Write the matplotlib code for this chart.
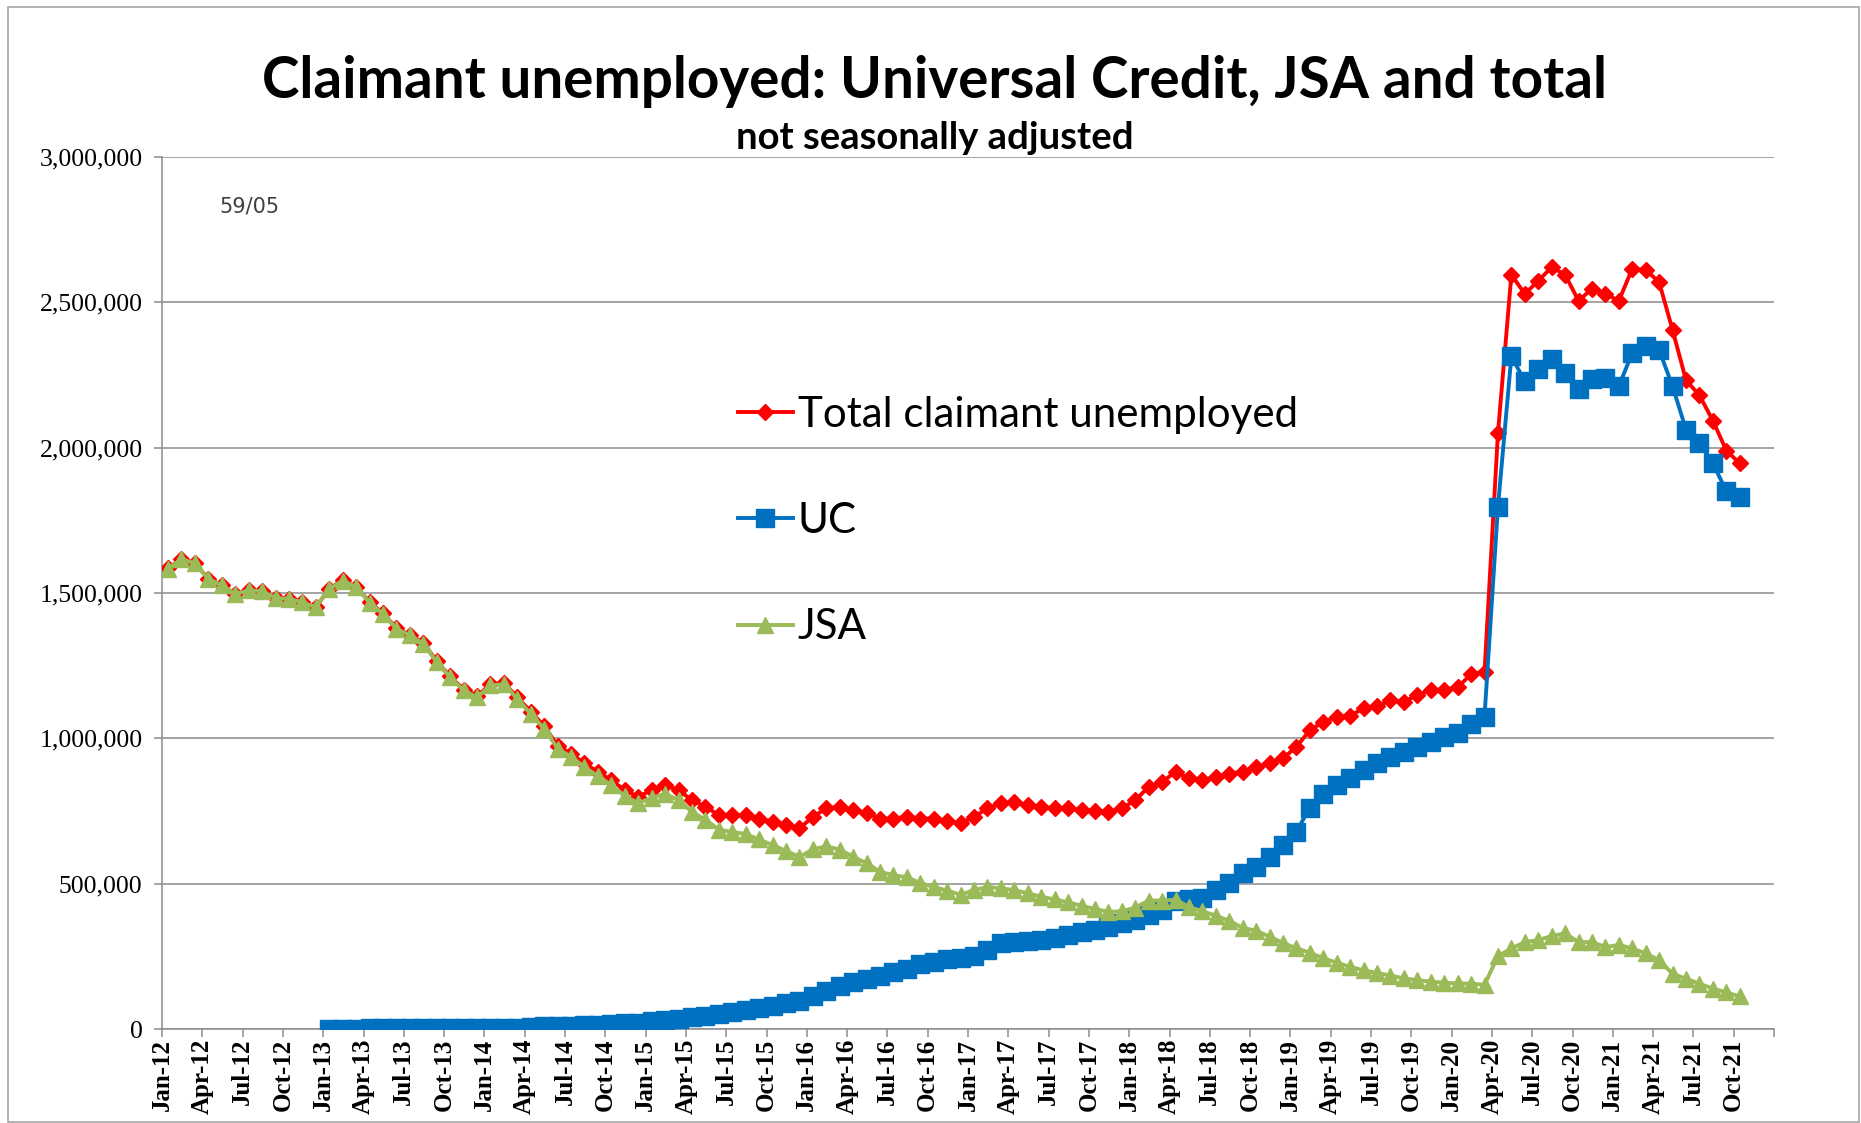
import numpy as np
import pandas as pd
import matplotlib
matplotlib.use('Agg')
import matplotlib.pyplot as plt
from matplotlib.patches import Rectangle

# Monthly claimant counts, Jan 2012 to Oct 2021 (millions)
months = pd.date_range('2012-01-01', '2021-10-01', freq='MS')

total = [1.585, 1.617, 1.602, 1.549, 1.526, 1.497, 1.509, 1.506, 1.483, 1.480, 1.468, 1.451,
         1.515, 1.544, 1.521, 1.469, 1.430, 1.379, 1.356, 1.329, 1.265, 1.213, 1.168, 1.145,
         1.186, 1.191, 1.141, 1.092, 1.042, 0.975, 0.947, 0.914, 0.885, 0.856, 0.822, 0.799,
         0.822, 0.839, 0.822, 0.787, 0.765, 0.736, 0.736, 0.736, 0.724, 0.713, 0.701, 0.690,
         0.730, 0.759, 0.765, 0.753, 0.742, 0.724, 0.724, 0.730, 0.724, 0.724, 0.716, 0.707,
         0.730, 0.759, 0.776, 0.782, 0.770, 0.765, 0.759, 0.759, 0.753, 0.751, 0.747, 0.759,
         0.787, 0.833, 0.850, 0.885, 0.862, 0.856, 0.868, 0.879, 0.885, 0.902, 0.914, 0.931,
         0.971, 1.028, 1.057, 1.074, 1.078, 1.103, 1.111, 1.131, 1.126, 1.149, 1.166, 1.168,
         1.175, 1.221, 1.229, 2.050, 2.595, 2.529, 2.574, 2.621, 2.595, 2.505, 2.547, 2.529,
         2.505, 2.616, 2.612, 2.569, 2.405, 2.232, 2.180, 2.093, 1.990, 1.946]

# Universal Credit starts in Jan 2013
uc = [np.nan] * 12 + [
         0.001, 0.001, 0.001, 0.002, 0.002, 0.002, 0.002, 0.003, 0.003, 0.003, 0.003, 0.004,
         0.004, 0.005, 0.005, 0.008, 0.009, 0.010, 0.011, 0.013, 0.015, 0.017, 0.020, 0.022,
         0.027, 0.030, 0.034, 0.040, 0.045, 0.050, 0.058, 0.065, 0.072, 0.080, 0.088, 0.098,
         0.112, 0.130, 0.148, 0.160, 0.172, 0.183, 0.195, 0.208, 0.222, 0.232, 0.240, 0.245,
         0.252, 0.272, 0.295, 0.300, 0.303, 0.306, 0.312, 0.323, 0.332, 0.340, 0.350, 0.363,
         0.375, 0.392, 0.409, 0.440, 0.448, 0.452, 0.478, 0.501, 0.535, 0.558, 0.593, 0.633,
         0.679, 0.762, 0.810, 0.840, 0.862, 0.891, 0.914, 0.936, 0.954, 0.971, 0.988, 1.005,
         1.017, 1.051, 1.075, 1.796, 2.315, 2.228, 2.270, 2.304, 2.258, 2.201, 2.235, 2.240,
         2.211, 2.327, 2.349, 2.336, 2.211, 2.062, 2.016, 1.946, 1.851, 1.829]

jsa = [1.584, 1.617, 1.602, 1.549, 1.526, 1.497, 1.509, 1.506, 1.483, 1.480, 1.468, 1.451,
       1.514, 1.543, 1.520, 1.467, 1.428, 1.377, 1.354, 1.326, 1.262, 1.210, 1.165, 1.141,
       1.182, 1.186, 1.136, 1.084, 1.033, 0.965, 0.936, 0.901, 0.870, 0.839, 0.802, 0.777,
       0.795, 0.809, 0.788, 0.747, 0.720, 0.686, 0.678, 0.671, 0.652, 0.633, 0.613, 0.592,
       0.618, 0.629, 0.617, 0.593, 0.570, 0.541, 0.529, 0.522, 0.502, 0.489, 0.476, 0.462,
       0.478, 0.489, 0.484, 0.478, 0.467, 0.455, 0.446, 0.436, 0.424, 0.413, 0.403, 0.405,
       0.418, 0.442, 0.442, 0.445, 0.420, 0.405, 0.390, 0.372, 0.348, 0.338, 0.318, 0.296,
       0.278, 0.262, 0.244, 0.228, 0.214, 0.202, 0.193, 0.184, 0.174, 0.168, 0.163, 0.159,
       0.157, 0.156, 0.152, 0.251, 0.277, 0.299, 0.306, 0.320, 0.329, 0.299, 0.299, 0.282,
       0.289, 0.277, 0.260, 0.237, 0.190, 0.173, 0.156, 0.139, 0.126, 0.112]

tick_labels = list(months[::3].strftime('%b-%y'))

W, H = 1861, 1123
fig = plt.figure(figsize=(W / 100, H / 100), dpi=100)
ax = fig.add_axes([162 / W, 1 - 1029 / H, (1774 - 162) / W, (1029 - 157) / H])

# counts are taken mid-month, so points sit a little right of the month tick
x = np.arange(len(months)) + 0.45

ax.plot(x, np.array(total) * 1e6, color='#FF0000', lw=2.8, marker='D', ms=8,
        mec='#FF0000', label='Total claimant unemployed', zorder=3)
ax.plot(x, np.array(uc) * 1e6, color='#0070C0', lw=2.8, marker='s', ms=13,
        mec='#0070C0', label='UC', zorder=4)
ax.plot(x, np.array(jsa) * 1e6, color='#9BBB59', lw=2.8, marker='^', ms=11.5,
        mec='#9BBB59', label='JSA', zorder=5)

ax.set_xlim(0, 120)
ax.set_ylim(0, 3e6)
ax.set_yticks(np.arange(0, 3.01e6, 5e5))
ax.yaxis.set_major_formatter(plt.FuncFormatter(lambda v, p: f'{v:,.0f}'))
ax.set_xticks(list(range(0, 118, 3)) + [120])
ax.set_xticklabels(tick_labels + [''], rotation=90, fontsize=18,
                   family='Liberation Serif', weight='bold')
for lbl in ax.get_yticklabels():
    lbl.set_family('Liberation Serif')
    lbl.set_fontsize(18.5)

ax.grid(axis='y', color='#8C8C8C', lw=1.1)
ax.set_axisbelow(True)
for side in ['top', 'right']:
    ax.spines[side].set_visible(False)
for side in ['left', 'bottom']:
    ax.spines[side].set_color('#8C8C8C')
    ax.spines[side].set_linewidth(1.1)
ax.tick_params(axis='both', direction='out', length=6, color='#8C8C8C', width=1.1)
ax.tick_params(axis='x', pad=1)
ax.tick_params(axis='y', pad=8)

leg = ax.legend(loc='upper left', bbox_to_anchor=(738 / W, 1 - 396 / H),
                bbox_transform=fig.transFigure, frameon=False, numpoints=1,
                handlelength=1.3, handletextpad=0.12,
                labelspacing=1.62, borderpad=0, borderaxespad=0,
                prop={'family': 'Lato', 'size': 30.3})

fig.text(934 / W, 1 - 82 / H, 'Claimant unemployed: Universal Credit, JSA and total',
         ha='center', va='center', fontsize=40.8, weight='bold', family='Lato')
fig.text(935 / W, 1 - 138 / H, 'not seasonally adjusted',
         ha='center', va='center', fontsize=27.5, weight='bold', family='Lato')
fig.text(249 / W, 1 - 207 / H, '59/05', ha='center', va='center',
         fontsize=15, family='DejaVu Sans', color='#404040')

# outer chart border
fig.patches.append(Rectangle((8 / W, 1 / H), (1859 - 8) / W, (1122 - 7) / H,
                             transform=fig.transFigure, fill=False,
                             edgecolor='#A6A6A6', lw=1.2))

fig.savefig('out.png', dpi=100)
